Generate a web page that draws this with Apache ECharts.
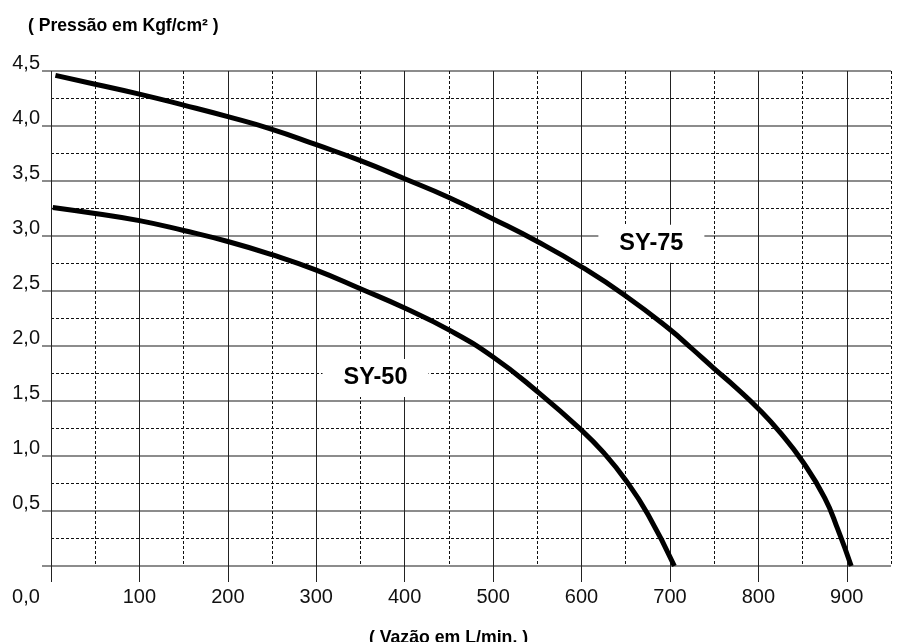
<!DOCTYPE html>
<html>
<head>
<meta charset="utf-8">
<script src="https://cdn.jsdelivr.net/npm/echarts@6/dist/echarts.min.js"></script>
<style>
html,body{margin:0;padding:0;background:#fff;}
#c{width:897px;height:642px;}
</style>
</head>
<body>
<div id="c"></div>
<script>
// ---- data ----
const flowSY75 = [5, 50, 100, 150, 200, 250, 300, 350, 400, 450, 500, 550, 600, 650, 700, 725, 750, 775, 800, 825, 850, 875, 890, 905];
const pressSY75 = [4.46, 4.38, 4.29, 4.19, 4.085, 3.97, 3.83, 3.685, 3.52, 3.35, 3.155, 2.95, 2.72, 2.455, 2.15, 1.975, 1.795, 1.62, 1.43, 1.21, 0.95, 0.62, 0.33, 0];
const flowSY50 = [2, 50, 100, 150, 200, 250, 300, 350, 400, 450, 500, 550, 600, 625, 650, 675, 705];
const pressSY50 = [3.26, 3.205, 3.14, 3.05, 2.95, 2.83, 2.69, 2.52, 2.345, 2.147, 1.90, 1.586, 1.235, 1.03, 0.78, 0.47, 0];
const seriesNames = ['SY-75', 'SY-50'];
const labelAnchorSY75 = [679, 2.93];
const labelAnchorSY50 = [367, 1.71];
const yTitle = '( Pressão em Kgf/cm² )';
const xTitle = '( Vazão em L/min. )';
const originLabel = '0,0';

const FONT = '"Liberation Sans", Arial, sans-serif';
const pair = (xs, ys) => xs.map((x, i) => [x, ys[i]]);
const fmtY = v => v === 0 ? '' : v.toFixed(1).replace('.', ',');

const chart = echarts.init(document.getElementById('c'), null, {renderer: 'canvas'});
const boxLabel = (name, coord) => ({
  coord: coord,
  symbol: 'rect',
  symbolSize: [106, 38],
  itemStyle: {color: '#ffffff'},
  label: {show: true, position: 'inside', formatter: name, fontFamily: FONT, fontSize: 23.5, fontWeight: 'bold', color: '#000'}
});

chart.setOption({
  animation: false,
  backgroundColor: '#fff',
  title: [
    {text: yTitle, left: 23, top: 12, textStyle: {fontFamily: FONT, fontSize: 17.6, fontWeight: 'bold', color: '#000'}},
    {text: xTitle, left: 'center', top: 624, textStyle: {fontFamily: FONT, fontSize: 17.7, fontWeight: 'bold', color: '#000'}}
  ],
  grid: [
    {left: 51, right: 6, top: 71, bottom: 76},
    {left: 51, right: 50.21, top: 71, bottom: 76}
  ],
  xAxis: [
    {
      gridIndex: 0, type: 'value', min: 0, max: 950, interval: 50,
      axisLine: {show: false}, axisTick: {show: false}, axisLabel: {show: false},
      splitLine: {show: true, lineStyle: {color: '#111', width: 1, type: [3, 2]}}
    },
    {
      gridIndex: 1, type: 'value', min: 0, max: 900, interval: 100,
      axisLine: {show: false},
      axisTick: {show: true, length: 16, lineStyle: {color: '#222', width: 1}},
      axisLabel: {
        show: true, margin: 21, fontFamily: FONT, fontSize: 20, color: '#111',
        formatter: v => v === 0 ? '{o|' + originLabel + '}' : String(v),
        rich: {o: {fontFamily: FONT, fontSize: 20, color: '#111', padding: [0, 50, 0, 0]}}
      },
      splitLine: {show: true, lineStyle: {color: '#222', width: 1, type: 'solid'}}
    }
  ],
  yAxis: [
    {
      gridIndex: 0, type: 'value', min: 0, max: 4.5, interval: 0.5,
      axisLine: {show: false},
      axisTick: {show: true, length: 9, lineStyle: {color: '#666', width: 1.5}},
      axisLabel: {show: true, margin: 11, fontFamily: FONT, fontSize: 20, lineHeight: 15, color: '#111', verticalAlign: 'bottom', formatter: fmtY},
      splitLine: {show: true, lineStyle: {color: '#666', width: 1.5}},
      minorTick: {show: false, splitNumber: 2},
      minorSplitLine: {show: true, lineStyle: {color: '#111', width: 1, type: [3, 2]}}
    },
    {
      gridIndex: 1, type: 'value', min: 0, max: 4.5, show: false,
      splitLine: {show: false}
    }
  ],
  series: [
    {
      name: seriesNames[0], type: 'line', xAxisIndex: 0, yAxisIndex: 0,
      data: pair(flowSY75, pressSY75), smooth: 0.5,
      showSymbol: false, symbol: 'none', clip: false,
      lineStyle: {color: '#000', width: 5, cap: 'butt'},
      markPoint: {silent: true, data: [boxLabel(seriesNames[0], labelAnchorSY75)]}
    },
    {
      name: seriesNames[1], type: 'line', xAxisIndex: 0, yAxisIndex: 0,
      data: pair(flowSY50, pressSY50), smooth: 0.5,
      showSymbol: false, symbol: 'none', clip: false,
      lineStyle: {color: '#000', width: 5, cap: 'butt'},
      markPoint: {silent: true, data: [boxLabel(seriesNames[1], labelAnchorSY50)]}
    }
  ]
});
</script>
</body>
</html>
